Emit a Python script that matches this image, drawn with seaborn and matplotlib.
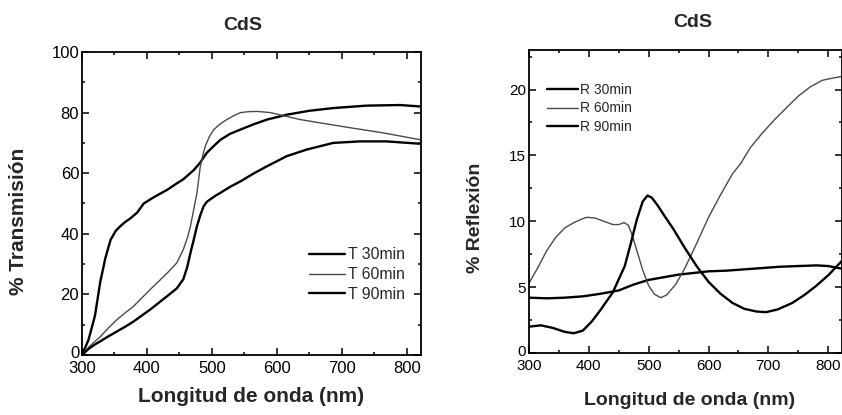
import numpy as np
import pandas as pd
import matplotlib
matplotlib.use("Agg")
import matplotlib.pyplot as plt
import matplotlib.transforms as mtransforms
import seaborn as sns
from matplotlib.ticker import MultipleLocator

# ---------------- data ----------------
t30_x = [300, 310, 320, 328, 336, 344, 352, 359, 367, 374, 385, 395, 410, 431, 445, 456, 464, 472, 482, 492, 503, 513, 528, 544, 565, 585, 615, 650, 687, 738, 790, 822]
t30_y = [0, 5, 13, 24, 32, 38, 41, 42.5, 44, 45, 47, 50, 52, 54.5, 56.5, 58, 59.5, 61, 63.5, 66.7, 69, 71, 73, 74.4, 76.2, 77.7, 79.3, 80.6, 81.5, 82.3, 82.5, 82]

t60_x = [300, 310, 320, 328, 341, 354, 367, 379, 392, 405, 418, 431, 446, 456, 462, 467, 472, 477, 482, 486, 490, 496, 503, 513, 523, 534, 544, 556, 569, 580, 590, 610, 636, 667, 713, 764, 822]
t60_y = [0, 2.5, 4.5, 6, 9, 11.7, 14, 16, 18.8, 21.6, 24.3, 27, 30.4, 34.8, 38.5, 42.5, 48, 53.5, 62, 66, 69, 72, 74.4, 76.3, 77.7, 79, 80, 80.3, 80.4, 80.2, 80, 79, 77.7, 76.6, 75, 73.3, 71]

t90_x = [300, 310, 320, 328, 341, 354, 367, 379, 392, 405, 418, 431, 446, 456, 462, 467, 472, 477, 482, 487, 492, 497, 505, 513, 528, 544, 565, 585, 615, 646, 687, 728, 769, 822]
t90_y = [0, 2, 3.5, 4.5, 6.2, 7.8, 9.4, 11, 13, 15, 17.2, 19.4, 22, 25, 29, 33.7, 38, 42.5, 46, 49, 50.5, 51.3, 52.5, 53.5, 55.5, 57.3, 60, 62.3, 65.6, 67.8, 70, 70.5, 70.5, 69.7]

r30_x = [300, 320, 340, 360, 375, 390, 405, 420, 440, 460, 470, 480, 490, 498, 505, 515, 525, 540, 560, 580, 600, 620, 640, 660, 680, 696, 715, 740, 760, 780, 800, 823]
r30_y = [2.0, 2.1, 1.9, 1.6, 1.5, 1.7, 2.4, 3.3, 4.6, 6.6, 8.3, 10.1, 11.5, 11.95, 11.8, 11.2, 10.5, 9.5, 8.0, 6.6, 5.4, 4.5, 3.8, 3.35, 3.15, 3.1, 3.3, 3.8, 4.4, 5.1, 5.9, 7.0]

r60_x = [300, 315, 330, 345, 360, 375, 390, 397, 410, 425, 440, 450, 459, 466, 472, 480, 490, 500, 510, 520, 530, 545, 560, 580, 600, 620, 640, 654, 670, 690, 710, 732, 750, 770, 790, 800, 823]
r60_y = [5.3, 6.5, 7.8, 8.8, 9.5, 9.9, 10.2, 10.3, 10.25, 10.0, 9.75, 9.75, 9.9, 9.7, 9.0, 7.8, 6.3, 5.1, 4.45, 4.2, 4.4, 5.2, 6.4, 8.3, 10.3, 12.0, 13.6, 14.4, 15.6, 16.7, 17.7, 18.7, 19.5, 20.2, 20.7, 20.8, 21.0]

r90_x = [300, 330, 360, 390, 420, 450, 475, 500, 525, 550, 580, 600, 630, 660, 690, 720, 750, 780, 800, 823]
r90_y = [4.2, 4.15, 4.2, 4.3, 4.5, 4.75, 5.2, 5.55, 5.75, 5.95, 6.1, 6.2, 6.25, 6.35, 6.45, 6.55, 6.6, 6.65, 6.6, 6.4]

t_labels = ["T 30min", "T 60min", "T 90min"]
r_labels = ["R 30min", "R 60min", "R 90min"]

# ---------------- style ----------------
sns.set_style("ticks")
plt.rcParams["font.family"] = ["Liberation Sans", "DejaVu Sans"]
plt.rcParams["axes.linewidth"] = 1.3

fig = plt.figure(figsize=(8.42, 4.15), dpi=100)
axL = fig.add_axes([82/842, 60/415, 339/842, 303/415])
axR = fig.add_axes([529/842, 62/415, 313/842, 303/415])

thick = dict(color="black", linewidth=1.7)
thin = dict(color="#4a4a4a", linewidth=1.0)

for xs, ys, lab, st in [(t30_x, t30_y, t_labels[0], thick),
                        (t60_x, t60_y, t_labels[1], thin),
                        (t90_x, t90_y, t_labels[2], thick)]:
    sns.lineplot(x=xs, y=ys, ax=axL, label=lab, **st)

for xs, ys, lab, st in [(r90_x, r90_y, r_labels[0], thick),
                        (r60_x, r60_y, r_labels[1], thin),
                        (r30_x, r30_y, r_labels[2], thick)]:
    sns.lineplot(x=xs, y=ys, ax=axR, label=lab, **st)

def style_axes(ax, xlim, ylim, ymaj, ymin, tsize):
    ax.set_xlim(*xlim)
    ax.set_ylim(*ylim)
    ax.xaxis.set_major_locator(MultipleLocator(100))
    ax.xaxis.set_minor_locator(MultipleLocator(50))
    ax.yaxis.set_major_locator(MultipleLocator(ymaj))
    ax.yaxis.set_minor_locator(MultipleLocator(ymin))
    ax.tick_params(which="both", direction="in", top=True, right=True,
                   labelsize=tsize, colors="black", width=1.1)
    ax.tick_params(axis="x", pad=4.5)
    ax.tick_params(axis="y", pad=2)
    ax.tick_params(which="major", length=5)
    ax.tick_params(which="minor", length=2.5)
    for s in ax.spines.values():
        s.set_visible(True)
        s.set_color("black")

style_axes(axL, (300, 822), (0, 100), 20, 10, 12)
style_axes(axR, (300, 823), (0, 23), 5, 2.5, 11)

# nudge the "0" y tick label slightly up so it does not collide with "300"
fig.canvas.draw()
for ax in (axL, axR):
    for lbl in ax.get_yticklabels():
        if lbl.get_text() == "0":
            lbl.set_transform(lbl.get_transform() +
                              mtransforms.ScaledTranslation(0, 3/100, fig.dpi_scale_trans))

# labels
axL.set_xlabel("Longitud de onda (nm)", fontsize=15, fontweight="bold")
axL.set_ylabel("% Transmisión", fontsize=15, fontweight="bold")
axL.xaxis.set_label_coords(0.5, -0.105)
axL.xaxis.label.set_va("top")
axL.yaxis.set_label_coords(-0.16, 0.44)
axL.set_title("CdS", fontsize=14, fontweight="bold", x=0.475, y=1.089, va="center", pad=0)

axR.set_xlabel("Longitud de onda (nm)", fontsize=14, fontweight="bold")
axR.set_ylabel("% Reflexión", fontsize=14, fontweight="bold")
axR.xaxis.set_label_coords(0.514, -0.13)
axR.xaxis.label.set_va("top")
axR.yaxis.set_label_coords(-0.144, 0.445)
axR.set_title("CdS", fontsize=14, fontweight="bold", x=0.524, y=1.092, va="center", pad=0)

# legends
axL.legend(loc="upper left", bbox_to_anchor=(0.67, 0.355), frameon=False,
           fontsize=11.3, handlelength=2.3, handletextpad=0.15,
           labelspacing=0.3, borderpad=0, borderaxespad=0)
axR.legend(loc="upper left", bbox_to_anchor=(0.058, 0.89), frameon=False,
           fontsize=10, handlelength=2.2, handletextpad=0.15,
           labelspacing=0.3, borderpad=0, borderaxespad=0)

fig.savefig("out.png", dpi=100, facecolor="white")
